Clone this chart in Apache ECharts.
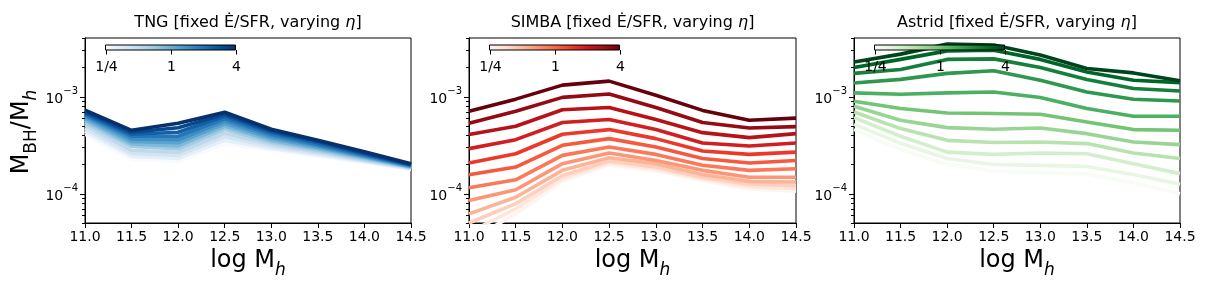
<!DOCTYPE html>
<html><head><meta charset="utf-8">
<script src="https://cdn.jsdelivr.net/npm/echarts@6/dist/echarts.min.js"></script>
<style>html,body{margin:0;padding:0;background:#fff}#c{width:1205px;height:290px}</style>
</head><body><div id="c"></div>
<script>
// ---------------- data ----------------
const logMh = [11, 11.5, 12, 12.5, 13, 13.5, 14, 14.5];
const panelNames = ['TNG', 'SIMBA', 'Astrid'];
const etaTicks = [0.25, 1, 4];
const etaTickLabels = ['1/4', '1', '4'];
const yMajorTicks = [1e-4, 1e-3];
const yMajorLabels = ['−4', '−3'];
const yMinorTicks = [5e-5, 6e-5, 7e-5, 8e-5, 9e-5, 2e-4, 3e-4, 4e-4, 5e-4, 6e-4, 7e-4, 8e-4, 9e-4, 2e-3, 3e-3, 4e-3];

// lines ordered from eta = 4 (darkest) to eta = 1/4 (lightest)
const tngLines = [
  [7.22e-4, 4.49e-4, 5.31e-4, 6.89e-4, 4.60e-4, 3.54e-4, 2.70e-4, 2.03e-4],
  [6.97e-4, 4.29e-4, 4.77e-4, 6.57e-4, 4.44e-4, 3.46e-4, 2.63e-4, 2.00e-4],
  [6.73e-4, 4.09e-4, 4.29e-4, 6.27e-4, 4.29e-4, 3.34e-4, 2.57e-4, 1.98e-4],
  [6.49e-4, 3.90e-4, 3.90e-4, 5.90e-4, 4.09e-4, 3.22e-4, 2.51e-4, 1.96e-4],
  [6.27e-4, 3.67e-4, 3.59e-4, 5.56e-4, 3.90e-4, 3.11e-4, 2.45e-4, 1.93e-4],
  [5.98e-4, 3.46e-4, 3.34e-4, 5.24e-4, 3.72e-4, 3.00e-4, 2.40e-4, 1.91e-4],
  [5.70e-4, 3.26e-4, 3.11e-4, 4.94e-4, 3.54e-4, 2.90e-4, 2.34e-4, 1.89e-4],
  [5.43e-4, 3.07e-4, 2.90e-4, 4.60e-4, 3.38e-4, 2.80e-4, 2.28e-4, 1.87e-4],
  [5.06e-4, 2.80e-4, 2.67e-4, 4.19e-4, 3.22e-4, 2.70e-4, 2.23e-4, 1.85e-4],
  [4.71e-4, 2.60e-4, 2.48e-4, 3.85e-4, 3.07e-4, 2.60e-4, 2.18e-4, 1.82e-4],
  [4.39e-4, 2.42e-4, 2.31e-4, 3.54e-4, 2.93e-4, 2.51e-4, 2.13e-4, 1.80e-4],
  [4.09e-4, 2.25e-4, 2.15e-4, 3.26e-4, 2.80e-4, 2.42e-4, 2.08e-4, 1.78e-4]
];
const simbaLines = [
  [7.05e-4, 9.40e-4, 1.31e-3, 1.44e-3, 1.03e-3, 7.20e-4, 5.70e-4, 6.00e-4],
  [5.30e-4, 7.05e-4, 9.80e-4, 1.06e-3, 7.70e-4, 5.40e-4, 4.75e-4, 4.90e-4],
  [4.06e-4, 4.94e-4, 7.30e-4, 7.70e-4, 5.80e-4, 4.25e-4, 3.78e-4, 4.15e-4],
  [2.91e-4, 3.60e-4, 5.40e-4, 5.80e-4, 4.57e-4, 3.32e-4, 3.10e-4, 3.32e-4],
  [2.07e-4, 2.58e-4, 4.09e-4, 4.57e-4, 3.69e-4, 2.75e-4, 2.54e-4, 2.68e-4],
  [1.57e-4, 1.88e-4, 3.15e-4, 3.69e-4, 3.02e-4, 2.30e-4, 2.07e-4, 2.20e-4],
  [1.15e-4, 1.39e-4, 2.48e-4, 3.02e-4, 2.54e-4, 1.96e-4, 1.74e-4, 1.81e-4],
  [8.50e-5, 1.10e-4, 2.04e-4, 2.62e-4, 2.20e-4, 1.74e-4, 1.48e-4, 1.48e-4],
  [6.20e-5, 9.20e-5, 1.74e-4, 2.35e-4, 2.04e-4, 1.58e-4, 1.34e-4, 1.32e-4],
  [5.00e-5, 7.90e-5, 1.54e-4, 2.17e-4, 1.88e-4, 1.48e-4, 1.25e-4, 1.22e-4],
  [4.00e-5, 7.00e-5, 1.43e-4, 2.07e-4, 1.80e-4, 1.42e-4, 1.18e-4, 1.13e-4],
  [3.30e-5, 6.20e-5, 1.34e-4, 1.98e-4, 1.72e-4, 1.36e-4, 1.12e-4, 1.06e-4]
];
const astridLines = [
  [2.27e-3, 2.73e-3, 3.46e-3, 3.38e-3, 2.67e-3, 1.94e-3, 1.75e-3, 1.45e-3],
  [1.99e-3, 2.41e-3, 2.95e-3, 3.00e-3, 2.41e-3, 1.79e-3, 1.47e-3, 1.39e-3],
  [1.73e-3, 1.90e-3, 2.41e-3, 2.44e-3, 1.99e-3, 1.50e-3, 1.21e-3, 1.14e-3],
  [1.38e-3, 1.50e-3, 1.73e-3, 1.84e-3, 1.47e-3, 1.115e-3, 9.38e-4, 9.00e-4],
  [1.09e-3, 1.056e-3, 1.09e-3, 1.115e-3, 9.77e-4, 7.52e-4, 6.27e-4, 6.27e-4],
  [8.94e-4, 7.52e-4, 6.78e-4, 6.68e-4, 6.57e-4, 5.47e-4, 4.57e-4, 4.50e-4],
  [7.94e-4, 5.70e-4, 4.79e-4, 4.60e-4, 4.75e-4, 4.15e-4, 3.40e-4, 3.20e-4],
  [6.94e-4, 4.68e-4, 3.54e-4, 3.36e-4, 3.40e-4, 3.28e-4, 2.62e-4, 2.30e-4],
  [6.07e-4, 3.90e-4, 2.68e-4, 2.54e-4, 2.62e-4, 2.58e-4, 2.04e-4, 1.61e-4],
  [5.18e-4, 3.30e-4, 2.30e-4, 2.00e-4, 1.96e-4, 1.91e-4, 1.58e-4, 1.25e-4],
  [4.60e-4, 2.85e-4, 2.00e-4, 1.70e-4, 1.65e-4, 1.60e-4, 1.30e-4, 1.00e-4]
];

// ---------------- styling ----------------
const FONT = 'DejaVu Sans';
const cmaps = [
  ['#f7fbff','#deebf7','#c6dbef','#9ecae1','#6baed6','#4292c6','#2171b5','#08519c','#08306b'],
  ['#fff5f0','#fee0d2','#fcbba1','#fc9272','#fb6a4a','#ef3b2c','#cb181d','#a50f15','#67000d'],
  ['#f7fcf5','#e5f5e0','#c7e9c0','#a1d99b','#74c476','#41ab5d','#238b45','#006d2c','#00441b']
];
const allLines = [tngLines, simbaLines, astridLines];
const gridLeft = [85, 469, 854];
const gridWidth = [326, 327, 326];
const gridTop = 38, gridHeight = 185;

function hex2rgb(h){return [parseInt(h.slice(1,3),16),parseInt(h.slice(3,5),16),parseInt(h.slice(5,7),16)];}
function cmap(stops, t){
  const n = stops.length - 1;
  const s = Math.max(0, Math.min(1, t)) * n;
  const k = Math.min(Math.floor(s), n - 1);
  const f = s - k;
  const a = hex2rgb(stops[k]), b = hex2rgb(stops[k+1]);
  return 'rgb(' + a.map((v,i)=>Math.round(v + (b[i]-v)*f)).join(',') + ')';
}

const chart = echarts.init(document.getElementById('c'), null, {renderer: 'canvas'});

const grids = [], xAxes = [], yAxes = [], series = [];
for (let p = 0; p < 3; p++) {
  grids.push({left: gridLeft[p], top: gridTop, width: gridWidth[p], height: gridHeight,
    show: true, borderColor: '#000', borderWidth: 1, backgroundColor: 'transparent'});
  xAxes.push({gridIndex: p, type: 'value', min: 11, max: 14.5, interval: 0.5,
    axisLine: {show: true, onZero: false, lineStyle: {color: '#000', width: 1}},
    axisTick: {show: true, length: 5, lineStyle: {color: '#000', width: 1}},
    axisLabel: {show: true, interval: 0, color: '#000', fontSize: 14, fontFamily: FONT, margin: 7,
      showMinLabel: true, showMaxLabel: true, formatter: v => v.toFixed(1)},
    splitLine: {show: false}});
  yAxes.push({gridIndex: p, type: 'log', logBase: 10, min: 5e-5, max: 4e-3,
    axisLine: {show: true, lineStyle: {color: '#000', width: 1}},
    axisTick: {show: false}, axisLabel: {show: false}, splitLine: {show: false}, minorTick: {show: false}});
  const lines = allLines[p];
  const N = lines.length;
  for (let k = N - 1; k >= 0; k--) {
    const col = cmap(cmaps[p], 1 - k / (N - 1));
    series.push({type: 'line', xAxisIndex: p, yAxisIndex: p, symbol: 'none', silent: true,
      data: logMh.map((x, i) => [x, lines[k][i]]),
      lineStyle: {color: col, width: 3.6, cap: 'butt', join: 'round'}, clip: true, animation: false});
  }
}

chart.setOption({animation: false, grid: grids, xAxis: xAxes, yAxis: yAxes, series: series});

// ---------------- ticks, labels, colorbars ----------------
const g = [];
const titleRich = {t: {fontSize: 16, fontFamily: FONT, color: '#000'}, i: {fontSize: 16, fontFamily: FONT, fontStyle: 'italic', color: '#000'}};
for (let p = 0; p < 3; p++) {
  const L = gridLeft[p], W = gridWidth[p];
  yMinorTicks.forEach(v => {
    const pt = chart.convertToPixel({gridIndex: p}, [11, v]);
    g.push({type: 'line', shape: {x1: L - 3, y1: Math.round(pt[1]) + 0.5, x2: L, y2: Math.round(pt[1]) + 0.5},
      style: {stroke: '#000', lineWidth: 1}, z: 50});
  });
  yMajorTicks.forEach((v, j) => {
    const pt = chart.convertToPixel({gridIndex: p}, [11, v]);
    g.push({type: 'line', shape: {x1: L - 5, y1: Math.round(pt[1]) + 0.5, x2: L, y2: Math.round(pt[1]) + 0.5},
      style: {stroke: '#000', lineWidth: 1}, z: 50});
    g.push({type: 'text', x: L - 7, y: pt[1], z: 50,
      style: {text: '{a|10}{b|' + yMajorLabels[j] + '}', align: 'right', verticalAlign: 'middle',
        rich: {a: {fontSize: 14, fontFamily: FONT, color: '#000', lineHeight: 20, verticalAlign: 'bottom'},
               b: {fontSize: 10, fontFamily: FONT, color: '#000', lineHeight: 10, verticalAlign: 'top'}}}});
  });
  g.push({type: 'text', x: L + W / 2, y: 22.5, z: 50,
    style: {text: '{t|' + panelNames[p] + ' [fixed Ė/SFR, varying }{i|η}{t|]}', align: 'center', verticalAlign: 'middle', rich: titleRich}});
  g.push({type: 'text', x: L + W / 2, y: 264, z: 50,
    style: {text: '{m|log M}{s|h}', align: 'center', verticalAlign: 'middle',
      rich: {m: {fontSize: 24, fontFamily: FONT, color: '#000', lineHeight: 30, verticalAlign: 'top'},
             s: {fontSize: 17, fontFamily: FONT, fontStyle: 'italic', color: '#000', lineHeight: 17, verticalAlign: 'bottom'}}}});
  const cbX = L + 20.5, cbY = 45, cbW = 130, cbH = 5;
  const stops = cmaps[p].map((c, k) => ({offset: k / (cmaps[p].length - 1), color: c}));
  g.push({type: 'rect', shape: {x: cbX, y: cbY, width: cbW, height: cbH}, z: 60,
    style: {fill: {type: 'linear', x: 0, y: 0, x2: 1, y2: 0, colorStops: stops}, stroke: '#000', lineWidth: 1}});
  etaTicks.forEach((e, j) => {
    const tx = Math.round(cbX + cbW * Math.log(e / etaTicks[0]) / Math.log(etaTicks[2] / etaTicks[0])) + 0.5;
    g.push({type: 'line', shape: {x1: tx, y1: cbY + cbH, x2: tx, y2: cbY + cbH + 4.5}, style: {stroke: '#000', lineWidth: 1}, z: 60});
    g.push({type: 'text', x: tx, y: 67, z: 60,
      style: {text: etaTickLabels[j], align: 'center', verticalAlign: 'middle', fontSize: 14, fontFamily: FONT, fill: '#000'}});
  });
}
g.push({type: 'text', x: 25, y: 132, rotation: Math.PI / 2, z: 50,
  style: {text: '{m|M}{s|BH}{m|/M}{si|h}', align: 'center', verticalAlign: 'middle',
    rich: {m: {fontSize: 24, fontFamily: FONT, color: '#000', lineHeight: 30, verticalAlign: 'top'},
           s: {fontSize: 17, fontFamily: FONT, color: '#000', lineHeight: 17, verticalAlign: 'bottom'},
           si: {fontSize: 17, fontFamily: FONT, fontStyle: 'italic', color: '#000', lineHeight: 17, verticalAlign: 'bottom'}}}});

chart.setOption({graphic: {elements: g}});
</script></body></html>
